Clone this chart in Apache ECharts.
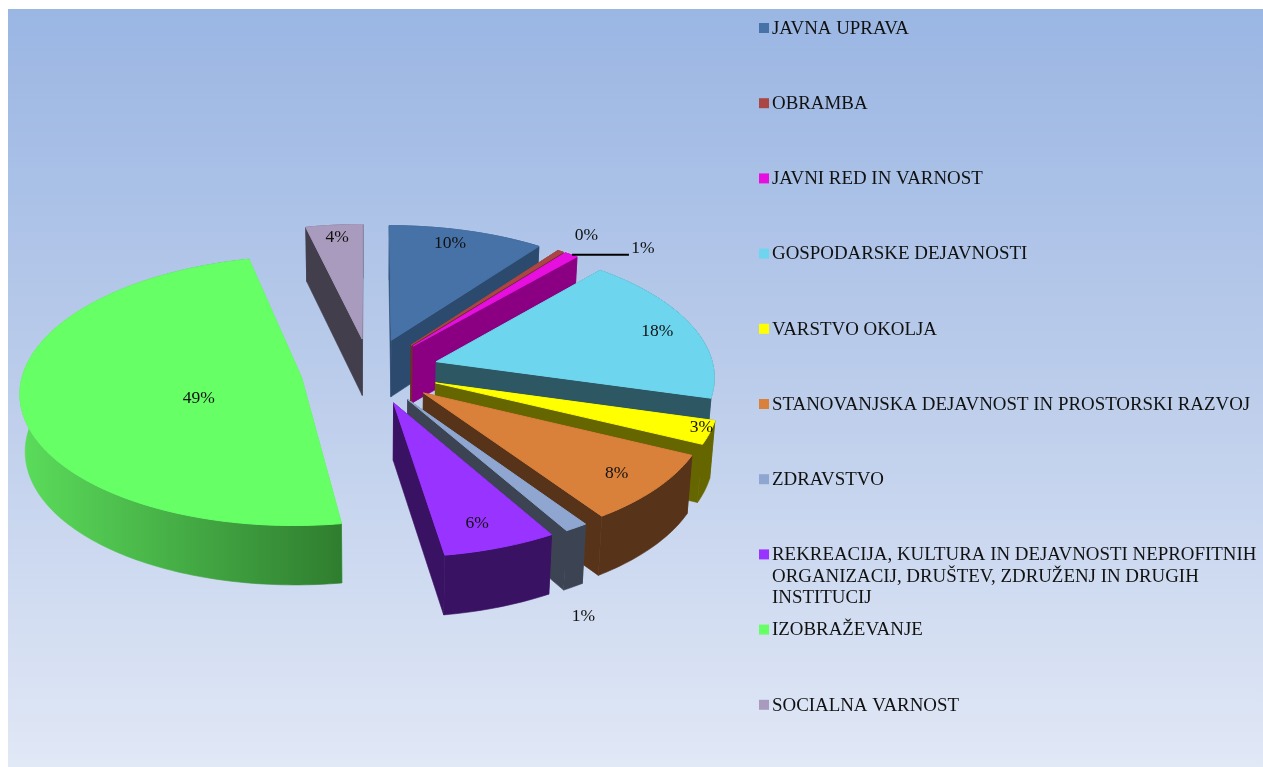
<!DOCTYPE html>
<html>
<head>
<meta charset="utf-8">
<title>Odhodki po funkcijah</title>
<script src="https://cdn.jsdelivr.net/npm/echarts@6/dist/echarts.min.js"></script>
<style>
    html, body { margin: 0; padding: 0; background: #fff; }
    #chart { width: 1263px; height: 767px; }
</style>
</head>
<body>
<div id="chart"></div>
<script>
const categories = [
    "JAVNA UPRAVA",
    "OBRAMBA",
    "JAVNI RED IN VARNOST",
    "GOSPODARSKE DEJAVNOSTI",
    "VARSTVO OKOLJA",
    "STANOVANJSKA DEJAVNOST IN PROSTORSKI RAZVOJ",
    "ZDRAVSTVO",
    "REKREACIJA, KULTURA IN DEJAVNOSTI NEPROFITNIH\nORGANIZACIJ, DRUŠTEV, ZDRUŽENJ IN DRUGIH\nINSTITUCIJ",
    "IZOBRAŽEVANJE",
    "SOCIALNA VARNOST"
];
const shares = [10.1, 0.4, 0.9, 18, 2.8, 8.3, 1.2, 5.85, 48.75, 3.7];

const topColors = ["#4672A8", "#AA4643", "#E60FE0", "#6DD6EE", "#FFFF00", "#D9803B", "#8FA7D0", "#9933FF", "#66FF66", "#A99BBD"];
const sideColors = ["#2B4A6E", "#6E2C2A", "#8B0083", "#2D5762", "#666600", "#57331A", "#3C4454", "#3A1263", "#5BDD5B", "#423E4C"];
const sideColorsEnd = ["#2B4A6E", "#6E2C2A", "#8B0083", "#2D5762", "#666600", "#57331A", "#3C4454", "#3A1263", "#2F7D2F", "#423E4C"];
// label place per slice: fraction of radius from the slice tip, angle shift in degrees
const labelRadius = [0.865, 1.19, 1.24, 0.86, 0.965, 0.845, 1.448, 0.84, 0.39, 0.885];
const labelShift = [-2, 0, 8.7, 0.3, -1.3, 0.5, 11.2, 1.1, -12.45, 0];

const CX = 370, CY = 371, RX = 278, RY = 132, DEPTH = 57;
const PERSPECTIVE = 0.1, EXPLODE = 0.25, BOTTOM_SHRINK = 0.985;
const FONT = '"Liberation Serif", "Times New Roman", serif';

const total = shares.reduce((a, b) => a + b, 0);
let acc = 0;
const slices = shares.map(function (v) {
    const start = acc / total * 2 * Math.PI;
    acc += v;
    const end = acc / total * 2 * Math.PI;
    return { start: start, end: end, mid: (start + end) / 2 };
});
// paint from the back of the pie to the front
const order = slices.map((s, i) => i).sort((a, b) => Math.cos(slices[b].mid) - Math.cos(slices[a].mid));
const rank = [];
order.forEach((idx, r) => { rank[idx] = r; });

function project(u, v, low) {
    const f = 1 / (1 - PERSPECTIVE * v);
    const shrink = low ? BOTTOM_SHRINK : 1;
    return [CX + RX * u * f * shrink, CY + RY * v * f + (low ? DEPTH * (1 + 0.04 * v) : 0)];
}

function tip(s) {
    return [EXPLODE * Math.sin(s.mid), -EXPLODE * Math.cos(s.mid)];
}

function onRim(s, angle, r) {
    const t = tip(s);
    return [t[0] + r * Math.sin(angle), t[1] - r * Math.cos(angle)];
}

function renderSlice(params, api) {
    const i = api.value(1);
    const s = slices[i];
    const t = tip(s);
    const z = rank[i] * 10 + 10;
    const rim = [];
    const steps = Math.max(2, Math.ceil((s.end - s.start) / 0.02));
    for (let k = 0; k <= steps; k++) {
        rim.push(onRim(s, s.start + (s.end - s.start) * k / steps, 1));
    }
    const first = rim[0], last = rim[rim.length - 1];
    const children = [];

    function wall(a, b, zz) {
        children.push({
            type: 'polygon', z2: zz,
            shape: { points: [project(a[0], a[1]), project(b[0], b[1]), project(b[0], b[1], true), project(a[0], a[1], true)] },
            style: { fill: sideColors[i], stroke: sideColors[i], lineWidth: 0.6 }
        });
    }
    wall(t, first, z);
    wall(t, last, z);

    const wallUp = rim.map(p => project(p[0], p[1]));
    const wallDown = rim.map(p => project(p[0], p[1], true)).reverse();
    const wallFill = new echarts.graphic.LinearGradient(0, 0, 1, 0, [
        { offset: 0, color: sideColors[i] },
        { offset: 1, color: sideColorsEnd[i] }
    ]);
    children.push({
        type: 'polygon', z2: z + 1,
        shape: { points: wallUp.concat(wallDown) },
        style: { fill: wallFill, stroke: wallFill, lineWidth: 0.6 }
    });
    children.push({
        type: 'polygon', z2: z + 2,
        shape: { points: [project(t[0], t[1])].concat(wallUp) },
        style: { fill: topColors[i], stroke: topColors[i], lineWidth: 1 }
    });

    const lp = onRim(s, s.mid + labelShift[i] * Math.PI / 180, labelRadius[i]);
    const lxy = project(lp[0], lp[1]);
    children.push({
        type: 'text', z2: 500,
        x: lxy[0], y: lxy[1],
        style: {
            text: Math.round(shares[i] / total * 100) + '%',
            font: '17.5px ' + FONT,
            fill: '#111',
            align: 'center',
            verticalAlign: 'middle'
        }
    });
    // the 1% label sits away from its narrow slice, so it gets a leader
    if (i === 2) {
        const from = project(rim[steps][0], rim[steps][1]);
        children.push({
            type: 'line', z2: 500,
            shape: { x1: from[0] - 5, y1: from[1] - 2, x2: lxy[0] - 14, y2: from[1] - 2 },
            style: { stroke: '#000', lineWidth: 2 }
        });
    }
    return { type: 'group', children: children };
}

const legendGraphics = [];
categories.forEach(function (name, i) {
    const y = 28 + i * 75.2;
    legendGraphics.push({
        type: 'rect', left: 759, top: y - 5,
        shape: { width: 10, height: 10 },
        style: { fill: topColors[i] }
    });
    legendGraphics.push({
        type: 'text', left: 772, top: y - 10,
        style: { text: name, font: '18.9px ' + FONT, fill: '#111', lineHeight: 21.5 }
    });
});

let chart = echarts.init(document.querySelector("#chart"), null, { renderer: 'canvas' });
chart.setOption({
    animation: false,
    backgroundColor: '#fff',
    graphic: [
        {
            type: 'rect', left: 8, top: 9, z: -1,
            shape: { width: 1255, height: 758 },
            style: {
                fill: new echarts.graphic.LinearGradient(0, 0, 0, 1, [
                    { offset: 0, color: '#9AB6E3' },
                    { offset: 0.5, color: '#BCCDEB' },
                    { offset: 1, color: '#E1E8F6' }
                ])
            }
        }
    ].concat(legendGraphics),
    series: [{
        type: 'custom',
        coordinateSystem: 'none',
        renderItem: renderSlice,
        data: shares.map((v, i) => ({ name: categories[i], value: [v, i] }))
    }]
});
</script>
</body>
</html>
